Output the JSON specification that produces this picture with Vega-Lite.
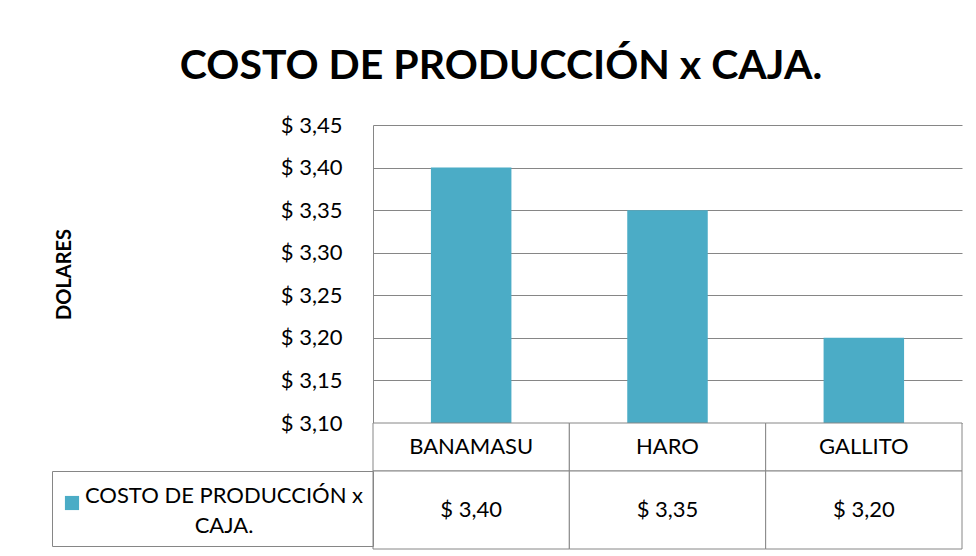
{
  "$schema": "https://vega.github.io/schema/vega-lite/v6.json",
  "padding": {"left": 51, "top": 46, "right": 14, "bottom": 4},
  "background": "white",
  "bounds": "flush",
  "config": {
    "font": "Lato",
    "locale": {"number": {"decimal": ",", "thousands": ".", "grouping": [3], "currency": ["$ ", ""]}},
    "view": {"stroke": null},
    "concat": {"spacing": 0},
    "style": {"guide-label": {"lineHeight": 30}}
  },
  "title": {"text": "COSTO DE PRODUCCIÓN x CAJA.", "fontSize": 41, "fontWeight": "bold", "font": "Lato", "color": "black", "anchor": "middle", "offset": 26, "dx": -6},
  "data": {"values": [
    {"marca": "BANAMASU", "costo": 3.40, "serie": "COSTO DE PRODUCCIÓN x CAJA."},
    {"marca": "HARO", "costo": 3.35, "serie": "COSTO DE PRODUCCIÓN x CAJA."},
    {"marca": "GALLITO", "costo": 3.20, "serie": "COSTO DE PRODUCCIÓN x CAJA."}
  ]},
  "resolve": {"scale": {"color": "independent"}, "legend": {"color": "independent"}},
  "vconcat": [
    {
      "width": 589, "height": 298,
      "mark": {"type": "bar", "color": "#4bacc6", "width": {"band": 0.41}},
      "encoding": {
        "x": {"field": "marca", "type": "nominal", "sort": null, "scale": {"paddingInner": 0, "paddingOuter": 0}, "axis": null},
        "y": {"field": "costo", "type": "quantitative", "scale": {"domain": [3.10, 3.45], "zero": false, "nice": false},
          "axis": {"values": [3.10, 3.15, 3.20, 3.25, 3.30, 3.35, 3.40, 3.45], "format": "$.2f", "title": "DOLARES",
            "titleFontSize": 20, "titleFontWeight": "bold", "titleColor": "black", "titleFont": "Lato", "titlePadding": 206,
            "labelFontSize": 22, "labelColor": "black", "labelFont": "Lato", "labelPadding": 31,
            "ticks": false, "tickSize": 0, "domainColor": "#868686", "gridColor": "#868686", "grid": true}},
        "y2": {"datum": 3.10}
      }
    },
    {
      "width": 589, "height": 48,
      "layer": [
        {"mark": {"type": "rect", "fill": "white", "stroke": "#868686", "strokeWidth": 1},
         "encoding": {"x": {"field": "marca", "type": "nominal", "sort": null, "scale": {"paddingInner": 0, "paddingOuter": 0}, "axis": null}}},
        {"mark": {"type": "text", "fontSize": 22, "color": "black", "font": "Lato"},
         "encoding": {"x": {"field": "marca", "type": "nominal", "sort": null, "axis": null}, "text": {"field": "marca"}}}
      ]
    },
    {
      "width": 589, "height": 78,
      "layer": [
        {"mark": {"type": "rect", "fill": "white", "stroke": "#868686", "strokeWidth": 1},
         "encoding": {"x": {"field": "marca", "type": "nominal", "sort": null, "scale": {"paddingInner": 0, "paddingOuter": 0}, "axis": null}}},
        {"mark": {"type": "text", "fontSize": 22, "color": "black", "font": "Lato"},
         "encoding": {"x": {"field": "marca", "type": "nominal", "sort": null, "axis": null}, "text": {"field": "costo", "type": "quantitative", "format": "$.2f"}}},
        {"mark": {"type": "square", "opacity": 0},
         "encoding": {"x": {"field": "marca", "type": "nominal", "sort": null, "axis": null},
           "color": {"field": "serie", "type": "nominal", "scale": {"range": ["#4bacc6"]},
             "legend": {"orient": "left", "offset": 0, "title": " ", "titleFontSize": 2, "titlePadding": 10, "strokeColor": "#868686", "padding": 9,
               "labelFontSize": 22, "labelColor": "black", "labelFont": "Lato", "labelLimit": 400,
               "symbolType": "square", "symbolSize": 200, "symbolOpacity": 1, "symbolStrokeWidth": 0,
               "labelExpr": "['COSTO DE PRODUCCIÓN x', 'CAJA.']", "labelAlign": "center", "labelBaseline": "alphabetic", "labelOffset": 141}}}}
      ]
    }
  ]
}
